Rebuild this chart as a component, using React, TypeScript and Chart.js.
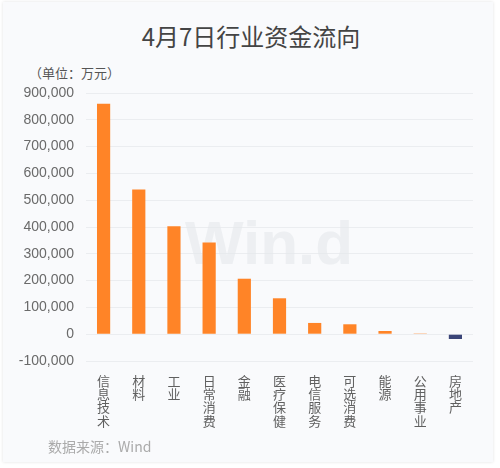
import React, { useEffect, useRef } from "react";
import { Chart, registerables } from "chart.js";

Chart.register(...registerables);

const title = "4月7日行业资金流向";
const unitLabel = "（单位：万元）";
const sourceLabel = "数据来源：Wind";
const watermark = "Win.d";

const categories = ["信息技术", "材料", "工业", "日常消费", "金融", "医疗保健", "电信服务", "可选消费", "能源", "公用事业", "房地产"];
const flows = [860000, 540000, 403000, 342000, 207000, 134000, 42000, 37000, 12000, 3000, -18000];

const yMin = -100000;
const yMax = 900000;
const yStep = 100000;

const posColor = "#ff8427";
const negColor = "#3b4578";

const watermarkPlugin = {
  id: "watermark",
  beforeDatasetsDraw(chart: any) {
    const { ctx } = chart;
    ctx.save();
    ctx.font = "bold 62px 'Liberation Sans', Arial, sans-serif";
    ctx.fillStyle = "rgba(228,231,235,0.6)";
    ctx.textAlign = "left";
    ctx.textBaseline = "alphabetic";
    ctx.fillText(watermark, 185, 264);
    ctx.restore();
  },
};

export default function App() {
  const ref = useRef<HTMLCanvasElement | null>(null);

  useEffect(() => {
    if (!ref.current) return;
    const chart = new Chart(ref.current, {
      type: "bar",
      data: {
        labels: categories.map((c) => c.split("")),
        datasets: [
          {
            data: flows,
            backgroundColor: flows.map((v) => (v >= 0 ? posColor : negColor)),
            barPercentage: 0.75,
            categoryPercentage: 0.5,
            borderWidth: 0,
          },
        ],
      },
      options: {
        animation: false,
        responsive: false,
        maintainAspectRatio: false,
        layout: { padding: { left: 0, right: 27, top: 93, bottom: 0 } },
        plugins: {
          legend: { display: false },
          tooltip: { enabled: false },
          title: { display: false },
        },
        scales: {
          x: {
            grid: { display: false, drawTicks: false },
            border: { display: false },
            ticks: {
              color: "#606060",
              font: { size: 13, family: "'Noto Sans CJK SC', sans-serif", lineHeight: 1.03 },
              padding: 13,
              maxRotation: 0,
              autoSkip: false,
            },
            afterFit(scale: any) {
              scale.height = 107;
            },
          },
          y: {
            min: yMin,
            max: yMax,
            grid: { color: "#ebedf0", drawTicks: false, lineWidth: 1 },
            border: { display: false },
            ticks: {
              stepSize: yStep,
              color: "#6a6a6a",
              padding: 12,
              font: { size: 14, family: "'Liberation Sans', Arial, sans-serif" },
              callback: (v: any) => Number(v).toLocaleString("en-US"),
            },
            afterFit(scale: any) {
              scale.width = 86;
            },
          },
        },
      },
      plugins: [watermarkPlugin],
    });
    return () => chart.destroy();
  }, []);

  return (
    <div style={{ position: "fixed", left: 0, top: 0, width: 500, height: 468, background: "#fff", overflow: "hidden" }}>
      <div
        style={{
          position: "absolute",
          left: 3,
          top: 2,
          width: 490,
          height: 460,
          background: "#f9fafc",
          boxShadow: "0 0 3px rgba(0,0,0,0.12)",
        }}
      />
      <div
        style={{
          position: "absolute",
          left: 0,
          width: 502,
          top: 20,
          textAlign: "center",
          font: "24px 'Noto Sans CJK SC', sans-serif",
          color: "#444",
          lineHeight: "32px",
        }}
      >
        {title}
      </div>
      <div
        style={{
          position: "absolute",
          left: 29,
          top: 63,
          font: "13px 'Noto Sans CJK SC', sans-serif",
          color: "#555",
          lineHeight: "19px",
          whiteSpace: "nowrap",
        }}
      >
        {unitLabel}
      </div>
      <canvas ref={ref} width={500} height={468} style={{ position: "absolute", left: 0, top: 0 }} />
      <div
        style={{
          position: "absolute",
          left: 48,
          top: 436,
          font: "14px 'Noto Sans CJK SC', 'Liberation Sans', sans-serif",
          color: "#aaa",
          lineHeight: "20px",
          whiteSpace: "nowrap",
        }}
      >
        {sourceLabel}
      </div>
    </div>
  );
}
